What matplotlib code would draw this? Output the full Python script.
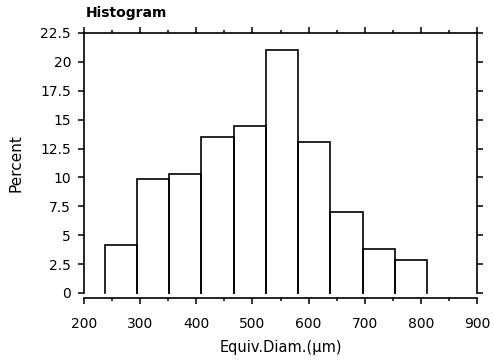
import numpy as np
import matplotlib.pyplot as plt
from matplotlib.ticker import MultipleLocator, FixedLocator
#----------------------------------------
# 히스토그램 데이터
edges = [237, 294.4, 351.8, 409.2, 466.6, 524, 581.4, 638.8, 696.2, 753.6, 811]
percent = [4.15, 9.85, 10.3, 13.5, 14.45, 21.0, 13.05, 7.0, 3.8, 2.85]
yticks = [0, 2.5, 5, 7.5, 10, 12.5, 15, 17.5, 20, 22.5]
ytick_labels = ["0", "2.5", "5", "7.5", "10", "12.5", "15", "17.5", "20", "22.5"]
xticks = [200, 300, 400, 500, 600, 700, 800, 900]
#----------------------------------------
plt.rcParams['font.family'] = ['DejaVu Sans']
fig = plt.figure(figsize=(4.94, 3.62), dpi=100)
ax = fig.add_axes([84/494, 1-293/362, 393/494, 260/362])

# 막대 (아래쪽 선 없이)
for k in range(len(percent)):
    l, r = edges[k], edges[k+1]
    ax.plot([l, l, r, r], [0, percent[k], percent[k], 0], color='black', lw=1.2,
            solid_joinstyle='miter', clip_on=False)

ax.set_xlim(200, 900)
ax.set_ylim(0, 22.5)
#----------------------------------------
# 축, 눈금
for s in ax.spines.values():
    s.set_linewidth(1.2)
ax.spines['bottom'].set_position(('outward', 3.6))

ax.xaxis.set_major_locator(FixedLocator(xticks))
ax.xaxis.set_minor_locator(MultipleLocator(50))
ax.set_xticklabels([str(v) for v in xticks])
ax.yaxis.set_major_locator(FixedLocator(yticks))
ax.set_yticklabels(ytick_labels)

ax.tick_params(axis='x', which='both', direction='out', top=True, bottom=True,
               labelsize=10, pad=9.5, width=1.1)
ax.tick_params(axis='x', which='major', length=4.5)
ax.tick_params(axis='x', which='minor', length=2.5)
ax.tick_params(axis='y', which='major', direction='out', left=True, right=True,
               labelsize=10, pad=5, length=4.3, width=1.1)
#----------------------------------------
# 글자
fig.text(86/494, 1-17/362, "Histogram", fontsize=10, fontweight='bold', va='baseline')
ax.set_ylabel("Percent", fontsize=11, va='center')
ax.yaxis.set_label_coords(-0.173, 0.5)
ax.set_xlabel("Equiv.Diam.(μm)", fontsize=10.5, va='top')
ax.xaxis.set_label_coords(0.5, -0.18)

plt.savefig("out.png", dpi=100)
#----------------------------------------
